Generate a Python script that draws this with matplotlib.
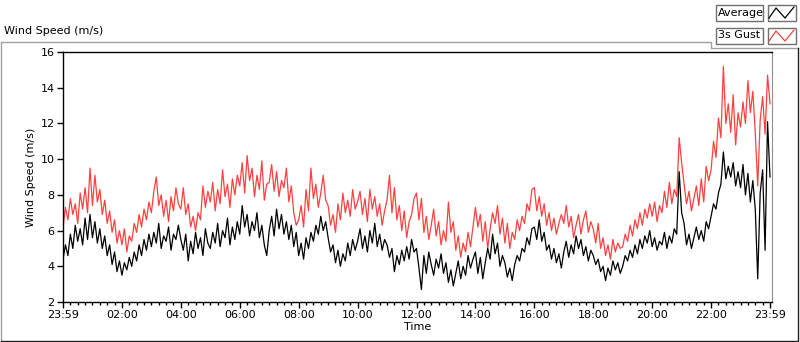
import numpy as np
import matplotlib
matplotlib.use("Agg")
import matplotlib.pyplot as plt
from matplotlib.patches import Rectangle
from matplotlib.lines import Line2D

# Average wind speed (m/s), 12 readings per hour, 23:59 -> 23:59
average = [
    4.4, 5.2, 4.6, 5.8, 5.0, 6.3, 5.4, 6.1, 5.2, 6.7, 5.5, 6.9,
    5.6, 6.5, 5.3, 6.1, 5.0, 5.7, 4.6, 5.2, 4.1, 4.8, 3.7, 4.3,
    3.5, 4.2, 3.8, 4.5, 4.0, 4.8, 4.3, 5.2, 4.6, 5.5, 4.9, 5.8,
    5.1, 5.9, 5.3, 6.4, 5.0, 5.7, 5.4, 6.2, 4.9, 5.8, 5.5, 6.3,
    5.5, 4.9, 5.8, 4.3, 5.4, 4.7, 5.9, 5.0, 5.6, 4.6, 6.1, 5.3,
    5.0, 5.9, 5.3, 6.4, 5.1, 6.0, 5.6, 6.7, 5.2, 6.2, 5.5, 6.5,
    5.8, 7.4, 6.2, 6.9, 5.7, 6.5, 6.0, 7.0, 5.6, 6.3, 5.2, 4.6,
    6.0, 6.8, 5.7, 7.2, 6.1, 6.9, 5.8, 6.5, 5.5, 6.3, 5.1, 5.9,
    4.6, 5.3, 4.4, 5.6, 5.0, 5.9, 5.4, 6.3, 5.8, 6.8, 6.0, 6.5,
    5.6, 4.8, 5.2, 4.2, 4.9, 4.0, 4.7, 4.3, 5.3, 4.6, 5.5, 4.9,
    5.4, 6.1, 5.0, 5.7, 4.8, 6.0, 5.3, 6.4, 5.1, 5.8, 4.9, 5.5,
    5.2, 4.5, 5.0, 3.7, 4.6, 4.1, 4.9, 4.3, 5.1, 4.4, 5.5, 4.8,
    5.0, 3.9, 2.7, 4.6, 3.6, 4.8, 4.1, 3.5, 4.4, 3.9, 4.7, 3.6,
    4.2, 3.1, 3.8, 2.9, 3.6, 4.3, 3.3, 4.0, 3.5, 4.6, 3.9, 4.4,
    4.8, 3.6, 4.5, 3.3, 4.2, 5.0, 4.4, 5.8, 4.7, 5.3, 4.0, 4.6,
    4.2, 3.4, 3.9, 3.2, 4.1, 4.6, 4.3, 5.0, 4.8, 5.6, 5.2, 6.1,
    6.2, 5.5, 6.6, 5.4, 5.9, 4.9, 5.2, 4.4, 5.0, 4.2, 4.7, 3.9,
    4.8, 5.4, 4.5, 5.2, 4.7, 5.7, 5.0, 5.5, 4.6, 5.1, 4.3, 4.9,
    4.6, 4.1, 4.4, 3.7, 4.0, 3.2, 3.9, 3.5, 4.3, 3.8, 4.2, 3.6,
    4.0, 4.6, 4.3, 4.9, 4.5, 5.2, 4.7, 5.5, 5.0, 5.7, 5.3, 6.0,
    5.1, 5.6, 4.9, 5.4, 5.2, 5.9, 5.0, 5.7, 5.3, 6.1, 5.8, 9.3,
    7.0, 6.4, 5.2, 5.8, 5.0, 5.6, 6.2, 5.5, 6.0, 5.4, 6.5, 6.1,
    6.8, 7.5, 7.2, 8.1, 8.6, 10.4, 8.9, 9.6, 9.0, 9.8, 8.5, 9.3,
    8.4, 9.7, 8.0, 9.2, 7.6, 8.8, 7.2, 3.3, 8.1, 9.4, 4.9, 12.1,
    9.0,
]

# 3 second gust (m/s)
gust = [
    6.2, 7.3, 6.6, 7.8, 6.9, 7.5, 6.4, 8.1, 7.2, 8.4, 7.0, 9.5,
    7.4, 9.1, 7.6, 8.3, 6.9, 7.7, 6.4, 7.1, 5.9, 6.6, 5.3, 6.0,
    5.2, 6.1, 4.8, 5.7, 5.4, 6.4, 5.9, 6.9, 6.2, 7.2, 6.6, 7.6,
    7.0, 8.2, 9.0, 7.4, 8.0, 6.8, 7.7, 6.5, 7.9, 7.1, 8.4, 7.5,
    7.2, 8.4, 6.9, 7.5, 6.2, 6.8, 6.0, 7.0, 6.6, 8.5, 7.3, 8.2,
    7.6, 8.7, 7.1, 8.3, 7.5, 9.4, 7.9, 8.6, 7.3, 8.9, 8.0, 9.1,
    8.5, 9.8, 8.1, 10.2, 8.8, 9.5, 7.9, 9.1, 8.3, 9.9, 7.7, 8.6,
    8.7, 9.7, 8.2, 9.3, 7.9, 8.8, 8.4, 9.5, 7.6, 8.5, 7.0, 6.3,
    6.6, 7.4, 6.2, 8.3, 7.1, 9.5, 7.8, 8.6, 7.3, 8.1, 9.1, 7.7,
    7.4, 6.3, 6.9, 5.9, 7.5, 6.6, 8.1, 7.0, 7.7, 6.8, 8.3, 7.2,
    7.6, 8.2, 6.9, 7.8, 6.5, 8.3, 7.2, 7.9, 6.8, 7.5, 6.3, 7.1,
    7.7, 9.1, 7.0, 8.4, 6.6, 7.4, 6.0, 7.1, 5.6, 6.5, 6.9, 7.8,
    8.1, 6.6, 7.8, 5.9, 6.8, 5.5, 6.3, 7.2, 5.7, 6.5, 5.2, 6.0,
    5.4, 7.6, 5.9, 6.5, 4.9, 5.7, 4.5, 5.3, 4.8, 5.9, 5.1, 6.2,
    7.3, 6.2, 6.9, 5.4, 6.5, 5.0, 6.1, 7.0, 6.4, 7.4, 5.8, 6.7,
    5.3, 6.4, 5.0, 5.9, 5.5, 6.6, 6.0, 6.8, 6.4, 7.5, 7.1, 8.3,
    8.4, 7.1, 7.9, 6.8, 7.5, 6.3, 7.0, 6.0, 6.7, 5.8, 6.4, 6.9,
    6.4, 7.4, 6.2, 6.8, 5.6, 6.3, 6.9, 5.8, 6.6, 7.1, 5.9, 6.5,
    6.1, 5.3, 6.4, 5.0, 5.6, 4.6, 5.2, 4.4, 5.5, 4.8, 5.3, 5.0,
    5.1, 5.8, 5.4, 6.3, 5.7, 6.6, 6.1, 7.0, 6.3, 7.2, 6.7, 7.5,
    6.8, 7.6, 6.5, 7.4, 7.0, 8.2, 7.3, 8.7, 7.5, 8.3, 7.9, 11.2,
    9.8, 8.6, 7.5, 8.2, 7.1, 7.8, 8.5, 7.4, 8.9, 7.6, 9.6, 8.8,
    9.4, 11.0, 10.1, 12.3, 11.2, 15.2, 12.0, 13.1, 11.5, 13.6, 10.8, 12.6,
    11.8, 13.2, 12.0, 14.4, 12.6, 13.8, 11.5, 8.5, 12.2, 13.5, 11.4, 14.7,
    13.1,
]

tick_hours = [0, 2, 4, 6, 8, 10, 12, 14, 16, 18, 20, 22, 24]
tick_labels = ["23:59", "02:00", "04:00", "06:00", "08:00", "10:00", "12:00",
               "14:00", "16:00", "18:00", "20:00", "22:00", "23:59"]

hours = np.arange(len(average)) / 12.0

W, H = 800, 342
fig = plt.figure(figsize=(W / 100, H / 100), dpi=100)
fs = 8

ax = fig.add_axes([63 / W, 1 - 302 / H, (772 - 63) / W, (302 - 52) / H])
ax.plot(hours, gust, color="#ff4040", linewidth=0.9)
ax.plot(hours, average, color="black", linewidth=0.9)

ax.set_xlim(0, 24 * (772 - 63) / (770 - 63))
ax.set_ylim(2, 16)
ax.set_yticks([2, 4, 6, 8, 10, 12, 14, 16])
ax.set_xticks(tick_hours)
ax.set_xticklabels(tick_labels)
ax.set_xticks(np.arange(0, 24.01, 0.25), minor=True)
ax.tick_params(axis="both", which="major", direction="out", length=4,
               width=1, labelsize=fs, pad=2)
ax.tick_params(axis="x", which="minor", direction="out", length=2, width=1)
for side in ["left", "bottom", "top"]:
    ax.spines[side].set_color("black")
    ax.spines[side].set_linewidth(1)
ax.spines["right"].set_color("#909090")
ax.set_xlabel("Time", fontsize=fs, labelpad=1)
ax.set_ylabel("Wind Speed (m/s)", fontsize=fs, labelpad=3)

# overlay in pixel units for the panel frame and the legend boxes
ov = fig.add_axes([0, 0, 1, 1], zorder=-1)
ov.set_xlim(0, W)
ov.set_ylim(H, 0)
ov.axis("off")
ov.plot([0.5, 711, 711, 797.5], [42, 42, 48, 48], color="#a0a0a0", lw=1)
ov.plot([0.5, 0.5], [42, 340.5], color="#a0a0a0", lw=1)
ov.plot([0.5, 797.5, 797.5], [340.5, 340.5, 48], color="#202020", lw=1)
ov.text(4, 31, "Wind Speed (m/s)", fontsize=fs, va="center", ha="left")

lg = fig.add_axes([0, 0, 1, 1], zorder=5)
lg.set_xlim(0, W)
lg.set_ylim(H, 0)
lg.axis("off")
for y0, name, col in [(4, "Average", "black"), (27, "3s Gust", "#ff4040")]:
    lg.add_patch(Rectangle((715.5, y0 + 0.5), 47, 16, fc="white", ec="#707070", lw=1))
    lg.add_patch(Rectangle((767.5, y0 + 0.5), 28, 16, fc="white", ec="#707070", lw=1))
    lg.text(718, y0 + 8.5, name, fontsize=fs, va="center", ha="left")
    lg.add_line(Line2D([769, 776, 785, 794], [y0 + 14, y0 + 4, y0 + 14, y0 + 3],
                       color=col, lw=0.9))

fig.savefig("out.png", dpi=100)
